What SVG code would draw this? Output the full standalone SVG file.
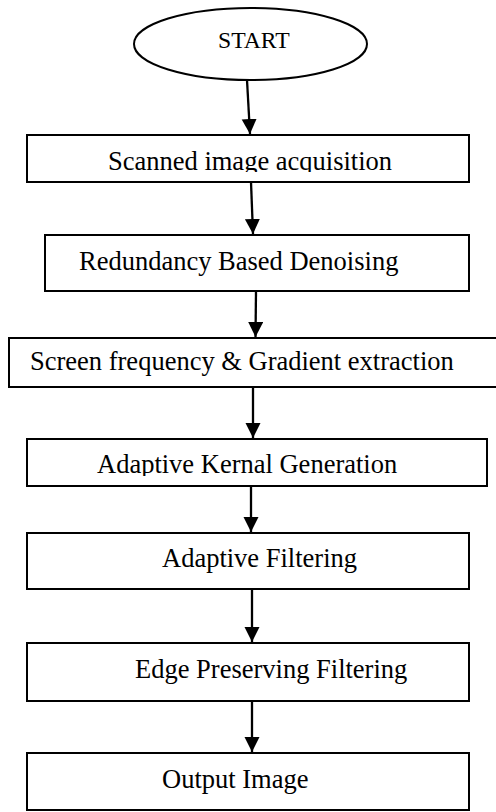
<svg xmlns="http://www.w3.org/2000/svg" width="496" height="812" viewBox="0 0 496 812">
<style>
.box{fill:#fff;stroke:#000;stroke-width:2}
.lbl{font-family:"Liberation Serif","Times New Roman",serif;font-size:26.5px;fill:#000}
.edge{stroke:#000;stroke-width:2.3;fill:none}
</style>
<defs>
<marker id="ah" markerUnits="userSpaceOnUse" markerWidth="16" markerHeight="16" refX="15" refY="7.5" orient="auto">
<path d="M0,0 L15,7.5 L0,15 Z" fill="#000"/>
</marker>
<clipPath id="c1"><rect x="0" y="130" width="496" height="42"/></clipPath>
<clipPath id="c4"><rect x="0" y="430" width="496" height="46"/></clipPath>
</defs>
<rect width="496" height="812" fill="#fff"/>
<g id="start">
<ellipse cx="250.5" cy="44" rx="116.5" ry="36" fill="#fff" stroke="#000" stroke-width="2"/>
<text class="lbl" x="218" y="48" style="font-size:23.7px">START</text>
</g>
<g id="n1">
<rect class="box" x="27" y="135" width="442" height="47"/>
<text class="lbl" x="108" y="170" clip-path="url(#c1)">Scanned image acquisition</text>
</g>
<g id="n2">
<rect class="box" x="45" y="235" width="424" height="56"/>
<text class="lbl" x="79" y="270">Redundancy Based Denoising</text>
</g>
<g id="n3">
<rect class="box" x="9" y="338" width="500" height="49"/>
<text class="lbl" x="30" y="370">Screen frequency &amp; Gradient extraction</text>
</g>
<g id="n4">
<rect class="box" x="27" y="439" width="460" height="47"/>
<text class="lbl" x="97" y="473" clip-path="url(#c4)">Adaptive Kernal Generation</text>
</g>
<g id="n5">
<rect class="box" x="27" y="533" width="442" height="56"/>
<text class="lbl" x="162" y="567">Adaptive Filtering</text>
</g>
<g id="n6">
<rect class="box" x="27" y="643" width="442" height="58"/>
<text class="lbl" x="135" y="678">Edge Preserving Filtering</text>
</g>
<g id="n7">
<rect class="box" x="27" y="753" width="442" height="57"/>
<text class="lbl" x="162" y="788">Output Image</text>
</g>
<g id="connectors">
<line class="edge" x1="247" y1="80" x2="250" y2="134" marker-end="url(#ah)"/>
<line class="edge" x1="251" y1="182" x2="253" y2="234" marker-end="url(#ah)"/>
<line class="edge" x1="256" y1="291" x2="255.5" y2="337" marker-end="url(#ah)"/>
<line class="edge" x1="253" y1="387" x2="253" y2="438" marker-end="url(#ah)"/>
<line class="edge" x1="251" y1="486" x2="251" y2="532" marker-end="url(#ah)"/>
<line class="edge" x1="252" y1="589" x2="252" y2="642" marker-end="url(#ah)"/>
<line class="edge" x1="252" y1="701" x2="252" y2="752" marker-end="url(#ah)"/>
</g>
</svg>
